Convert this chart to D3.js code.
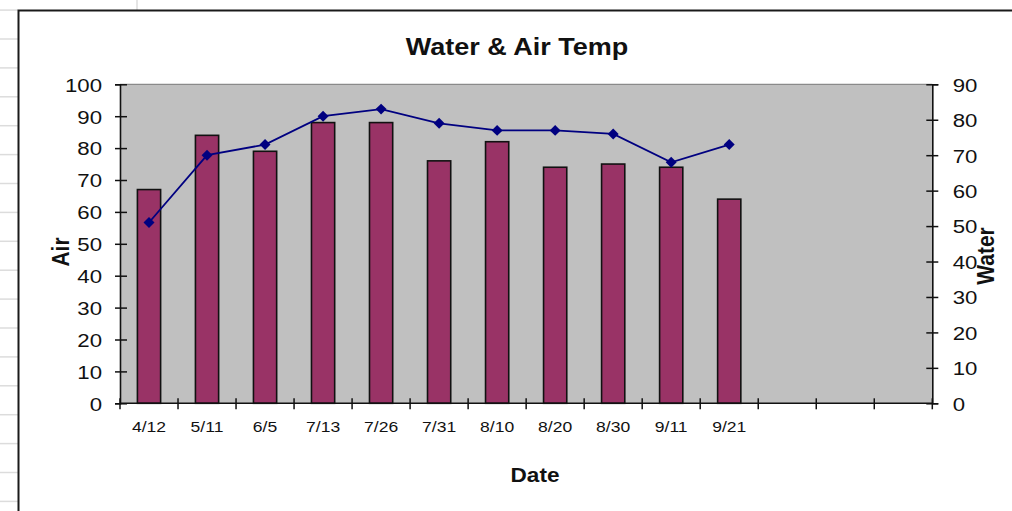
<!DOCTYPE html>
<html>
<head>
<meta charset="utf-8">
<script src="https://cdn.jsdelivr.net/npm/d3@7"></script>
<style>
  html, body { margin: 0; padding: 0; background: #fff; }
  svg { display: block; font-family: "Liberation Sans", Arial, sans-serif; }
</style>
</head>
<body>
<svg id="chart" width="1012" height="511"></svg>
<script>
// ---- data ----
const categories = ["4/12", "5/11", "6/5", "7/13", "7/26", "7/31", "8/10", "8/20", "8/30", "9/11", "9/21"];
const airValues   = [67, 84, 79, 88, 88, 76, 82, 74, 75, 74, 64];
const waterValues = [51, 70, 73, 81, 83, 79, 77, 77, 76, 68, 73];
const slotCount = 14;               // category slots on the x axis (3 empty)
const airTicks   = [0, 10, 20, 30, 40, 50, 60, 70, 80, 90, 100];
const waterTicks = [0, 10, 20, 30, 40, 50, 60, 70, 80, 90];
const titleText = "Water & Air Temp";
const xTitle = "Date", yLeftTitle = "Air", yRightTitle = "Water";

// ---- layout ----
const svg = d3.select("#chart");
const W = 1012, H = 511;
const plot = { left: 120, right: 932.3, top: 84.3, bottom: 403.3 };
const SX = 1.17;

// spreadsheet background gridlines
const bg = svg.append("g");
for (let k = -1; k <= 16; k++) {
  const y = 39 + 28.9 * k;
  bg.append("line").attr("x1", 0).attr("x2", 18).attr("y1", y).attr("y2", y)
    .attr("stroke", "#dcdcdc").attr("stroke-width", 1.5);
}
bg.append("line").attr("x1", 137).attr("x2", 137).attr("y1", 0).attr("y2", 10)
  .attr("stroke", "#dcdcdc").attr("stroke-width", 1.5);

// chart area border
svg.append("path")
  .attr("d", `M18.5,${H} L18.5,10.5 L${W},10.5`)
  .attr("fill", "none").attr("stroke", "#1a1a1a").attr("stroke-width", 2);

// ---- scales ----
const x = d3.scaleBand().domain(d3.range(slotCount))
  .range([plot.left, plot.right]).paddingInner(0.6).paddingOuter(0.3);
const yL = d3.scaleLinear().domain([0, 100]).range([plot.bottom, plot.top]);
const yR = d3.scaleLinear().domain([0, 90]).range([plot.bottom, plot.top]);
const step = x.step();

// plot area
svg.append("rect").attr("x", plot.left).attr("y", plot.top)
  .attr("width", plot.right - plot.left).attr("height", plot.bottom - plot.top)
  .attr("fill", "#c0c0c0");
svg.append("line").attr("x1", plot.left).attr("x2", plot.right)
  .attr("y1", plot.top).attr("y2", plot.top)
  .attr("stroke", "#8a8a8a").attr("stroke-width", 1.2);

// bars
svg.append("g").selectAll("rect").data(airValues).join("rect")
  .attr("x", (d, i) => x(i))
  .attr("y", d => yL(d))
  .attr("width", x.bandwidth())
  .attr("height", d => yL(0) - yL(d))
  .attr("fill", "#993366")
  .attr("stroke", "#111").attr("stroke-width", 1.6);

// line
const line = d3.line().x((d, i) => x(i) + x.bandwidth() / 2).y(d => yR(d));
svg.append("path").datum(waterValues).attr("d", line)
  .attr("fill", "none").attr("stroke", "#000080").attr("stroke-width", 1.8);
svg.append("g").selectAll("path").data(waterValues).join("path")
  .attr("d", d3.symbol(d3.symbolSquare, 60)())
  .attr("transform", (d, i) => `translate(${x(i) + x.bandwidth() / 2},${yR(d)}) rotate(45)`)
  .attr("fill", "#000080");

// ---- axes ----
const fontTick = 19;
// left axis
const gL = svg.append("g").attr("transform", `translate(${plot.left},0)`)
  .call(d3.axisLeft(yL).tickValues(airTicks).tickSizeOuter(0).tickSize(5));
gL.select(".domain").attr("stroke", "#111").attr("stroke-width", 1.6);
gL.selectAll(".tick line").attr("x1", -5).attr("x2", 7).attr("stroke", "#111").attr("stroke-width", 1.5);
gL.selectAll(".tick text").attr("x", -18 / SX).attr("dy", "0.36em")
  .attr("transform", `scale(${SX},1)`)
  .style("font-size", fontTick + "px").style("font-family", "Liberation Sans, Arial, sans-serif").attr("fill", "#111");

// right axis
const gR = svg.append("g").attr("transform", `translate(${plot.right},0)`)
  .call(d3.axisRight(yR).tickValues(waterTicks).tickSizeOuter(0).tickSize(6));
gR.select(".domain").attr("stroke", "#111").attr("stroke-width", 1.6);
gR.selectAll(".tick line").attr("x1", -6).attr("x2", 6).attr("stroke", "#111").attr("stroke-width", 1.5);
gR.selectAll(".tick text").attr("x", 20.4 / SX).attr("dy", "0.36em")
  .attr("transform", `scale(${SX},1)`)
  .style("font-size", fontTick + "px").style("font-family", "Liberation Sans, Arial, sans-serif").attr("fill", "#111");

// bottom axis (labels at band centers)
const gB = svg.append("g").attr("transform", `translate(0,${plot.bottom})`)
  .call(d3.axisBottom(x).tickSize(0).tickSizeOuter(0).tickFormat(i => categories[i] || ""));
gB.select(".domain").remove();
gB.selectAll(".tick text").attr("y", 28.7).attr("dy", 0)
  .attr("transform", `scale(${SX},1)`)
  .style("font-size", "15px").style("font-family", "Liberation Sans, Arial, sans-serif").attr("fill", "#111");
gB.append("line").attr("x1", plot.left).attr("x2", plot.right).attr("y1", 0).attr("y2", 0)
  .attr("stroke", "#111").attr("stroke-width", 1.6);
// category boundary ticks
gB.selectAll(".bt").data(d3.range(slotCount + 1)).join("line")
  .attr("class", "bt")
  .attr("x1", i => plot.left + i * step).attr("x2", i => plot.left + i * step)
  .attr("y1", -5).attr("y2", 6)
  .attr("stroke", "#111").attr("stroke-width", 1.5);

// ---- titles ----
svg.append("text").attr("transform", `translate(517,55) scale(1.15,1)`)
  .attr("text-anchor", "middle").style("font-weight", "bold").style("font-size", "23.5px")
  .attr("fill", "#111").text(titleText);
svg.append("text").attr("transform", `translate(535,481.5) scale(1.13,1)`)
  .attr("text-anchor", "middle").style("font-weight", "bold").style("font-size", "20px")
  .attr("fill", "#111").text(xTitle);
svg.append("text").attr("transform", `translate(69,252) rotate(-90) scale(1,${SX})`)
  .attr("text-anchor", "middle").style("font-weight", "bold").style("font-size", "21px")
  .attr("fill", "#111").text(yLeftTitle);
svg.append("text").attr("transform", `translate(994,256) rotate(-90) scale(1,${SX})`)
  .attr("text-anchor", "middle").style("font-weight", "bold").style("font-size", "21px")
  .attr("fill", "#111").text(yRightTitle);
</script>
</body>
</html>
